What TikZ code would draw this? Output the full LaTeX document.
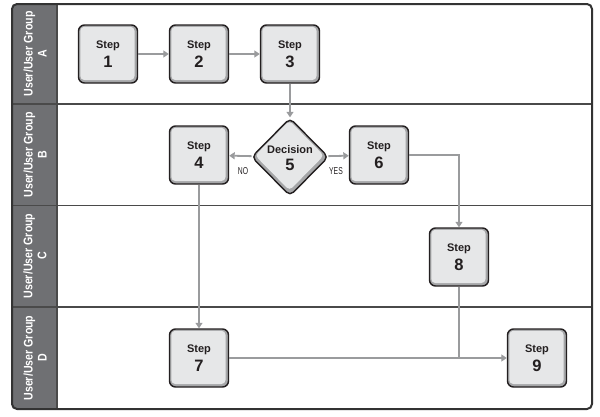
\documentclass[tikz,border=0pt]{standalone}
\usepackage{fontspec}
\setmainfont{Liberation Sans}
\newfontfamily\condfont[FakeStretch=0.68]{Liberation Sans}
\newfontfamily\lanefont[FakeStretch=0.85,UprightFont=* Bold]{Liberation Sans}
\usetikzlibrary{arrows.meta,shapes.geometric}
\definecolor{framec}{HTML}{333333}
\definecolor{sidec}{HTML}{6F7073}
\definecolor{lanec}{HTML}{4A4A4A}
\definecolor{arrowc}{HTML}{9A9B9D}
\definecolor{boxfill}{HTML}{E6E7E8}
\definecolor{ringc}{HTML}{A5A6A8}
\definecolor{borderc}{HTML}{231F20}
\newcommand{\stepnum}[1]{{\fontsize{16.5}{16}\selectfont #1}}
\tikzset{
  stepbox/.style={draw=borderc, line width=1.4pt, rounded corners=6pt, fill=ringc,
    minimum width=59pt, minimum height=58pt, align=center, inner sep=0pt,
    font=\bfseries\fontsize{11}{13}\selectfont, text=borderc,
    path picture={\fill[boxfill, rounded corners=4pt]
      ([shift={(1.8pt,-1.8pt)}]path picture bounding box.north west) rectangle
      ([shift={(-3pt,3pt)}]path picture bounding box.south east);}},
  flow/.style={draw=arrowc, line width=1.8pt},
  arr/.style={flow, -{Triangle[width=7pt,length=5.5pt]}},
  lanetext/.style={rotate=90, text=white, align=center,
    font=\lanefont\fontsize{12.5}{14}\selectfont},
  yn/.style={font=\condfont\fontsize{10}{10}\selectfont, text=borderc},
}
\begin{document}
\begin{tikzpicture}[x=1pt,y=-1pt]
\useasboundingbox (0,0) rectangle (600,416);
% sidebar
\begin{scope}
\clip[rounded corners=5pt] (12,4) rectangle (592,409);
\fill[sidec] (12,4) rectangle (57,409);
\end{scope}
% lane lines
\draw[lanec, line width=1.2pt] (12,104) -- (592,104);
\draw[lanec, line width=1.2pt] (12,205.5) -- (592,205.5);
\draw[lanec, line width=1.2pt] (12,307) -- (592,307);
\draw[lanec, line width=1.2pt] (57,4) -- (57,409);
% frame
\draw[framec, line width=2pt, rounded corners=5pt] (12,4) rectangle (592,409);
% lane labels
\node[lanetext] (la) at (35,54) {User/User Group\\A};
\node[lanetext] (lb) at (35,155) {User/User Group\\B};
\node[lanetext] (lc) at (35,256) {User/User Group\\C};
\node[lanetext] (ld) at (35,358) {User/User Group\\D};
% steps
\node[stepbox] (s1) at (108,54) {Step\\[4pt]\stepnum{1}};
\node[stepbox] (s2) at (199,54) {Step\\[4pt]\stepnum{2}};
\node[stepbox] (s3) at (290,54) {Step\\[4pt]\stepnum{3}};
\node[stepbox] (s4) at (199,155) {Step\\[4pt]\stepnum{4}};
\node[stepbox] (s6) at (379,155) {Step\\[4pt]\stepnum{6}};
\node[stepbox] (s8) at (459,257) {Step\\[4pt]\stepnum{8}};
\node[stepbox] (s7) at (199,358) {Step\\[4pt]\stepnum{7}};
\node[stepbox] (s9) at (537,358) {Step\\[4pt]\stepnum{9}};
% decision
\node[diamond, draw=borderc, line width=1.4pt, rounded corners=5pt, fill=ringc,
  minimum width=77pt, minimum height=78pt, inner sep=0pt] (d5) at (290,157) {};
\node[diamond, fill=boxfill, rounded corners=4pt,
  minimum width=69pt, minimum height=70pt, inner sep=0pt] (d5in) at (289.5,155.5) {};
\node[align=center, text=borderc, font=\bfseries\fontsize{11}{13}\selectfont] (d5t) at (290,158)
  {Decision\\[4pt]\stepnum{5}};
% connectors
\draw[arr] (s1) -- (s2);
\draw[arr] (s2) -- (s3);
\draw[arr] (s3) -- (d5);
\draw[arr] (d5) -- (s4);
\draw[arr] (d5) -- (s6);
\draw[arr] (s6.east) -| (s8.north);
\draw[arr] (s4) -- (s7);
\draw[arr] (s7) -- (s9);
\coordinate (j) at (s8 |- s7);
\draw[flow] (s8.south) -- (j);
\node[yn] (no) at (243,171) {NO};
\node[yn] (yes) at (336,171) {YES};
\end{tikzpicture}
\end{document}
